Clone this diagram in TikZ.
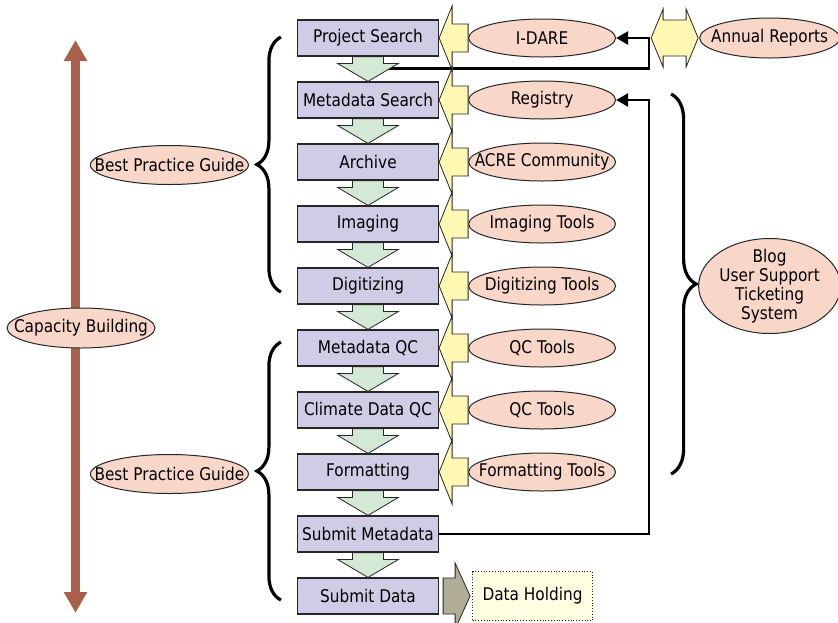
\documentclass[tikz,border=0pt]{standalone}
\usepackage{fontspec}
\setmainfont{DejaVu Sans}[FakeStretch=0.875]
\usetikzlibrary{positioning, shapes.geometric, arrows.meta, decorations.pathreplacing}
\definecolor{stepfill}{HTML}{D0CCE6}
\definecolor{toolfill}{HTML}{F9D7C8}
\definecolor{flowfill}{HTML}{D4E8D6}
\definecolor{feedfill}{HTML}{FFF8B2}
\definecolor{holdgray}{HTML}{B1AC96}
\definecolor{holdfill}{HTML}{FFFDE2}
\definecolor{capbrown}{HTML}{A9604A}
\tikzstyle{stepbox} = [rectangle, text centered, draw=black!85, fill=stepfill, line width=1.2pt, minimum width=141pt, minimum height=36pt, inner sep=0pt]
\tikzstyle{tool} = [ellipse, text centered, draw=black!85, fill=toolfill, line width=1pt, minimum width=147pt, minimum height=38pt, inner sep=-24pt]
\tikzstyle{flow} = [draw=black!85, fill=flowfill, line width=0.8pt]
\tikzstyle{feed} = [draw=black!85, fill=feedfill, line width=0.8pt]
\tikzstyle{link} = [draw, line width=2.5pt, -{Triangle[length=12pt,width=13pt]}]
\tikzstyle{curly} = [draw, line width=3.2pt, decorate]

\begin{document}
\begin{tikzpicture}[x=1pt, y=-1pt, font=\fontsize{17.5}{19}\selectfont]
		\useasboundingbox (0,0) rectangle (838,622);
		% steps
		\node [stepbox] (ps) at (368,38) {Project Search};
		\node [stepbox,below=24.8pt of ps] (ms) {Metadata Search};
		\node [stepbox,below=24.8pt of ms] (ar) {Archive};
		\node [stepbox,below=24.8pt of ar] (im) {Imaging};
		\node [stepbox,below=24.8pt of im] (dg) {Digitizing};
		\node [stepbox,below=24.8pt of dg] (mq) {Metadata QC};
		\node [stepbox,below=24.8pt of mq] (cq) {Climate Data QC};
		\node [stepbox,below=24.8pt of cq] (fm) {Formatting};
		\node [stepbox,below=24.8pt of fm] (sm) {Submit Metadata};
		\node [stepbox,below=24.8pt of sm] (sd) {Submit Data};
		
		% tools
		\node [tool,right=29pt of ps] (idare) {I-DARE};
		\node [tool,right=29pt of ms] (registry) {Registry};
		\node [tool,right=29pt of ar] (acre) {ACRE Community};
		\node [tool,right=29pt of im] (imtools) {Imaging Tools};
		\node [tool,right=29pt of dg] (dgtools) {Digitizing Tools};
		\node [tool,right=29pt of mq] (qca) {QC Tools};
		\node [tool,right=29pt of cq] (qcb) {QC Tools};
		\node [tool,right=29pt of fm] (fmtools) {Formatting Tools};
		\node [tool,right=83pt of idare,minimum width=140pt,minimum height=40pt] (reports) {Annual Reports};
		\node [tool,right=82pt of dgtools,minimum width=142pt,minimum height=95pt,align=center] (blog) {Blog\\User Support\\Ticketing\\System};
		\node [rectangle, draw=black!85, dotted, fill=holdfill, line width=0.8pt, minimum width=120pt, minimum height=49pt, right=33pt of sd] (dh) {Data Holding};
		
		% capacity
		\coordinate (captop) at (75.5,40);
		\coordinate (capbot) at (75.5,613);
		\draw [capbrown, line width=9pt, {Triangle[length=21pt,width=22pt]}-{Triangle[length=21pt,width=22pt]}] (capbot) -- (captop);
		\node [tool,minimum width=148pt,minimum height=40pt] (cap) at (81,328) {Capacity Building};
		\node [tool,left=48pt of ar,yshift=-3pt,minimum width=158pt,minimum height=39pt] (guidea) {Best Practice Guide};
		\node [tool,left=48pt of fm,yshift=-2pt,minimum width=158pt,minimum height=39pt] (guideb) {Best Practice Guide};
		
		% links
		\coordinate (psout) at ([xshift=20pt,yshift=13pt]ms.north);
		\draw [link] (psout) -| ([xshift=33pt]idare.east) -- (idare.east);
		\draw [link] (sm.east) -| ([xshift=33pt]registry.east) -- (registry.east);
		
		\foreach \a/\b in {ps/ms, ms/ar, ar/im, im/dg, dg/mq, mq/cq, cq/fm, fm/sm, sm/sd}
			\draw [flow] ([xshift=-15.5pt]\a.south) -- ([xshift=15.5pt]\a.south) -- ([xshift=15.5pt,yshift=18pt]\b.north) -- ([xshift=30.5pt,yshift=18pt]\b.north) -- (\b.north) -- ([xshift=-30.5pt,yshift=18pt]\b.north) -- ([xshift=-15.5pt,yshift=18pt]\b.north) -- cycle;
		
		\foreach \s/\t in {ps/idare, ms/registry, ar/acre, im/imtools, dg/dgtools, mq/qca, cq/qcb, fm/fmtools}
			\draw [feed] ([yshift=14pt]\t.west) -- ([xshift=13pt,yshift=14pt]\s.east) -- ([xshift=13pt,yshift=32pt]\s.east) -- (\s.east) -- ([xshift=13pt,yshift=-32pt]\s.east) -- ([xshift=13pt,yshift=-14pt]\s.east) -- ([yshift=-14pt]\t.west) -- cycle;
		
		\draw [feed] ([xshift=-1pt]reports.west) -- ([xshift=-13pt,yshift=29pt]reports.west) -- ([xshift=-13pt,yshift=18pt]reports.west) -- ([xshift=-36pt,yshift=18pt]reports.west) -- ([xshift=-36pt,yshift=29pt]reports.west) -- ([xshift=-48pt]reports.west) -- ([xshift=-36pt,yshift=-29pt]reports.west) -- ([xshift=-36pt,yshift=-18pt]reports.west) -- ([xshift=-13pt,yshift=-18pt]reports.west) -- ([xshift=-13pt,yshift=-29pt]reports.west) -- cycle;
		
		\draw [draw=black!85, fill=holdgray, line width=0.8pt] ([xshift=4pt,yshift=18pt]sd.east) -- ([xshift=16pt,yshift=18pt]sd.east) -- ([xshift=16pt,yshift=33pt]sd.east) -- ([xshift=-2pt]dh.west) -- ([xshift=16pt,yshift=-33pt]sd.east) -- ([xshift=16pt,yshift=-18pt]sd.east) -- ([xshift=4pt,yshift=-18pt]sd.east) -- cycle;
		
		% braces
		\draw [curly, decoration={brace, amplitude=24pt}] ([xshift=-16pt,yshift=-6pt]dg.west) -- ([xshift=-16pt,yshift=1pt]ps.west);
		\draw [curly, decoration={brace, amplitude=24pt}] ([xshift=-16pt,yshift=-4pt]sd.west) -- ([xshift=-16pt,yshift=6pt]mq.west);
		\draw [curly, decoration={brace, amplitude=25pt}] ([xshift=55pt,yshift=6pt]registry.east) -- ([xshift=55pt,yshift=-2pt]fmtools.east);
		
\end{tikzpicture}
\end{document}
